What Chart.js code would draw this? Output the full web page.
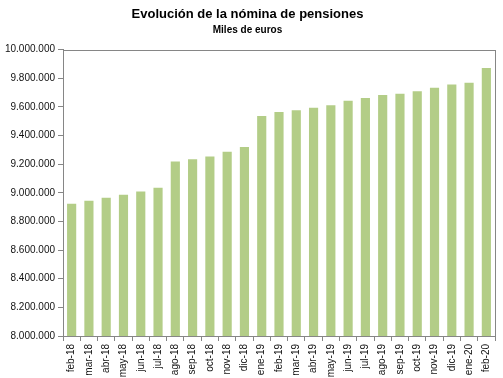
<!DOCTYPE html>
<html>
<head>
<meta charset="utf-8">
<script src="https://cdn.jsdelivr.net/npm/chart.js@4/dist/chart.umd.min.js"></script>
<style>
    html, body { margin: 0; padding: 0; background: #fff; }
    #wrap { width: 503px; height: 378px; }
</style>
</head>
<body>
<div id="wrap"><canvas id="pensionChart"></canvas></div>
<script>

// ==========================================
// Data
// ==========================================

const months = [
    "feb-18", "mar-18", "abr-18", "may-18", "jun-18", "jul-18",
    "ago-18", "sep-18", "oct-18", "nov-18", "dic-18", "ene-19",
    "feb-19", "mar-19", "abr-19", "may-19", "jun-19", "jul-19",
    "ago-19", "sep-19", "oct-19", "nov-19", "dic-19", "ene-20", "feb-20"
];

const nomina = [
    8923000, 8944000, 8965000, 8986000, 9009000, 9035000,
    9219000, 9235000, 9254000, 9287000, 9320000, 9536000,
    9564000, 9576000, 9594000, 9611000, 9643000, 9662000,
    9683000, 9692000, 9709000, 9734000, 9757000, 9769000, 9872000
];

const yMin = 8000000;
const yMax = 10000000;
const yStep = 200000;


// ==========================================
// Helpers
// ==========================================

function formatMiles(value) {

    return String(value).replace(/\B(?=(\d{3})+(?!\d))/g, ".");

}

// box around the plot area (top and right edges like the original)
const plotFrame = {

    id: "plotFrame",

    afterDraw(chart) {

        const { ctx, chartArea } = chart;

        ctx.save();
        ctx.strokeStyle = "#868686";
        ctx.lineWidth = 1;
        ctx.strokeRect(
            Math.round(chartArea.left) + 0.5,
            Math.round(chartArea.top) + 0.5,
            Math.round(chartArea.right - chartArea.left),
            Math.round(chartArea.bottom - chartArea.top)
        );
        ctx.restore();

    }

};


// ==========================================
// Chart
// ==========================================

const ctx = document.getElementById("pensionChart").getContext("2d");

new Chart(ctx, {

    type: "bar",

    data: {

        labels: months,

        datasets: [{
            label: "Nómina de pensiones",
            data: nomina,
            backgroundColor: "#b3cd87",
            borderWidth: 0,
            categoryPercentage: 1,
            barPercentage: 0.53
        }]

    },

    options: {

        responsive: true,
        maintainAspectRatio: false,
        animation: false,

        layout: {
            padding: { left: 0, right: 8, top: 0, bottom: 0 }
        },

        plugins: {

            legend: { display: false },
            tooltip: { enabled: false },

            title: {
                display: true,
                text: "Evolución de la nómina de pensiones",
                color: "#000",
                font: { family: "'Liberation Sans', Arial, sans-serif", size: 13, weight: "bold" },
                padding: { top: 7, bottom: 2 }
            },

            subtitle: {
                display: true,
                text: "Miles de euros",
                color: "#000",
                font: { family: "'Liberation Sans', Arial, sans-serif", size: 10, weight: "bold" },
                padding: { top: 0, bottom: 13 }
            }

        },

        scales: {

            x: {
                grid: {
                    offset: true,
                    drawOnChartArea: false,
                    color: "#868686",
                    tickLength: 5
                },
                border: { color: "#868686" },
                ticks: {
                    color: "#111",
                    font: { family: "'Liberation Sans', Arial, sans-serif", size: 10 },
                    minRotation: 90,
                    maxRotation: 90,
                    autoSkip: false,
                    padding: 3
                },
                afterFit(scale) {
                    scale.height = 42;
                }
            },

            y: {
                min: yMin,
                max: yMax,
                grid: {
                    drawOnChartArea: false,
                    color: "#868686",
                    tickLength: 5
                },
                border: { color: "#868686" },
                ticks: {
                    stepSize: yStep,
                    color: "#111",
                    font: { family: "'Liberation Sans', Arial, sans-serif", size: 10 },
                    padding: 3,
                    callback: value => formatMiles(value)
                },
                afterFit(scale) {
                    scale.width = 63;
                }
            }

        }

    },

    plugins: [plotFrame]

});

</script>
</body>
</html>
